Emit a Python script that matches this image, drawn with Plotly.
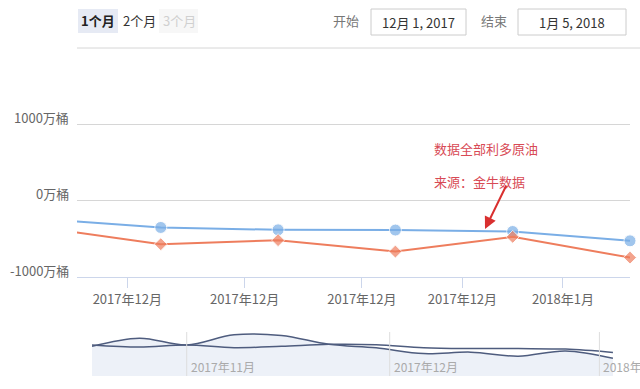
import plotly.graph_objects as go

# ---- data ----
dates = ["2017-10-18", "2017-10-25", "2017-11-01", "2017-11-08", "2017-11-15",
         "2017-11-22", "2017-11-29", "2017-12-06", "2017-12-13", "2017-12-20",
         "2017-12-27", "2018-01-03"]
blue_vals = [-250, -325, -250, -350, -300, -225, -240, -351, -382, -385, -404, -526]
orange_vals = [-300, 0, -250, 125, 100, -225, -356, -570, -517, -667, -474, -746]

x_tick_vals = ["2017-12-04", "2017-12-11", "2017-12-18", "2017-12-24", "2017-12-30"]
x_tick_text = ["2017年12月", "2017年12月", "2017年12月", "2017年12月", "2018年1月"]
y_tick_vals = [-1000, 0, 1000, 2000]
y_tick_text = ["-1000万桶", "0万桶", "1000万桶", ""]

nav_sep_dates = ["2017-11-01", "2017-12-01", "2018-01-01"]
nav_sep_text = ["2017年11月", "2017年12月", "2018年1"]

BLUE = "#7aaee6"
ORANGE = "#ee7d5d"
NAV = "#4e5c7e"
FONT = "Noto Sans CJK SC"
W, H = 640, 389

def px(x):
    return x / W

def py(y):
    return 1 - y / H

main_first = dates.index("2017-12-06")
blue_sizes = [0 if i < main_first else 12 for i in range(len(dates))]
orange_sizes = [0 if i < main_first else 10 for i in range(len(dates))]

fig = go.Figure()

# main series
fig.add_trace(go.Scatter(x=dates, y=blue_vals, mode="lines+markers",
                         line=dict(color=BLUE, width=2),
                         marker=dict(color=BLUE, size=blue_sizes, symbol="circle"),
                         cliponaxis=False, xaxis="x", yaxis="y", showlegend=False))
fig.add_trace(go.Scatter(x=dates, y=orange_vals, mode="lines+markers",
                         line=dict(color=ORANGE, width=2),
                         marker=dict(color=ORANGE, size=orange_sizes, symbol="diamond"),
                         cliponaxis=False, xaxis="x", yaxis="y", showlegend=False))

# navigator
nav_base = [-1400] * len(dates)
fig.add_trace(go.Scatter(x=dates, y=nav_base, mode="lines", line=dict(width=0, color="rgba(0,0,0,0)"),
                         xaxis="x2", yaxis="y2", showlegend=False, hoverinfo="skip"))
fig.add_trace(go.Scatter(x=dates, y=orange_vals, mode="lines", line=dict(color=NAV, width=1.5, shape="spline"),
                         fill="tonexty", fillcolor="#edf1f8",
                         xaxis="x2", yaxis="y2", showlegend=False))
fig.add_trace(go.Scatter(x=dates, y=blue_vals, mode="lines", line=dict(color=NAV, width=1.5, shape="spline"),
                         xaxis="x2", yaxis="y2", showlegend=False))

fig.update_layout(
    width=W, height=H,
    margin=dict(l=0, r=0, t=0, b=0),
    paper_bgcolor="white", plot_bgcolor="white",
    font=dict(family=FONT, size=12, color="#666666"),
    xaxis=dict(domain=[px(77), px(630)], range=["2017-12-01", "2018-01-03"],
               tickvals=x_tick_vals, ticktext=x_tick_text,
               showgrid=False, showline=True, linecolor="#ccd6eb", linewidth=1,
               ticks="outside", ticklen=10, tickcolor="#ccd6eb",
               tickfont=dict(size=13, color="#666666"), anchor="y", zeroline=False),
    yaxis=dict(domain=[py(277), py(48)], range=[-1000, 2000],
               tickvals=y_tick_vals, showticklabels=False,
               showgrid=True, gridcolor="#d6d6d6", gridwidth=1, zeroline=False, anchor="x"),
    xaxis2=dict(domain=[px(92), 1.0], range=["2017-10-18", "2018-01-07"],
                showgrid=False, showticklabels=False, zeroline=False, anchor="y2"),
    yaxis2=dict(domain=[py(376), py(332)], range=[-1400, 230],
                showgrid=False, showticklabels=False, zeroline=False, anchor="x2"),
)

annotations = []
for v, t in zip(y_tick_vals, y_tick_text):
    if t:
        annotations.append(dict(x=px(71), xref="paper", y=v, yref="y", text=t, showarrow=False,
                                xanchor="right", yanchor="middle", yshift=7,
                                font=dict(size=13, color="#666666", family=FONT)))

shapes = []
# top border line of the chart area
shapes.append(dict(type="line", xref="paper", yref="paper", x0=px(77), x1=1.0, y0=py(48), y1=py(48),
                   line=dict(color="#d6d6d6", width=1)))
for d, t in zip(nav_sep_dates, nav_sep_text):
    shapes.append(dict(type="line", xref="x2", yref="paper", x0=d, x1=d, y0=py(376), y1=py(332),
                       line=dict(color="#dddddd", width=1)))
    annotations.append(dict(x=d, xref="x2", y=py(366), yref="paper", text=t, showarrow=False,
                            xanchor="left", yanchor="middle", xshift=2,
                            font=dict(size=12, color="#aaaaaa", family=FONT)))

def label(x, y, text, size=13, color="#333333", anchor="center"):
    annotations.append(dict(x=px(x), y=py(y), xref="paper", yref="paper", text=text, showarrow=False,
                            xanchor=anchor, yanchor="middle",
                            font=dict(size=size, color=color, family=FONT)))

# range selector buttons
shapes.append(dict(type="rect", xref="paper", yref="paper", x0=px(78), x1=px(118), y0=py(33), y1=py(9),
                   fillcolor="#e6eaf4", line=dict(width=0), layer="below"))
shapes.append(dict(type="rect", xref="paper", yref="paper", x0=px(159), x1=px(198), y0=py(33), y1=py(9),
                   fillcolor="#f7f7f7", line=dict(width=0), layer="below"))
label(98, 21, "<b>1个月</b>", color="#222222")
label(139, 21, "2个月", color="#333333")
label(179, 21, "3个月", color="#d0d0d0")

# date inputs
label(346, 21, "开始", color="#777777")
shapes.append(dict(type="rect", xref="paper", yref="paper", x0=px(371), x1=px(466), y0=py(35), y1=py(9),
                   fillcolor="white", line=dict(color="#cccccc", width=1)))
label(418, 22, "12月 1, 2017", color="#333333")
label(494, 21, "结束", color="#777777")
shapes.append(dict(type="rect", xref="paper", yref="paper", x0=px(518), x1=px(626), y0=py(35), y1=py(9),
                   fillcolor="white", line=dict(color="#cccccc", width=1)))
label(572, 22, "1月 5, 2018", color="#333333")

# red note
RED = "#d84a55"
label(432, 148, "数据全部利多原油", color=RED, anchor="left")
label(432, 181, "来源：金牛数据", color=RED, anchor="left")
annotations.append(dict(x=px(485), y=py(229), xref="paper", yref="paper", ax=22, ay=-45,
                        text="", showarrow=True,
                        arrowhead=2, arrowsize=1.2, arrowwidth=2, arrowcolor="#d9302f"))

fig.update_layout(annotations=annotations, shapes=shapes)
fig.write_html("out.html", config={"displayModeBar": False},
               post_script="document.body.style.margin='0';document.body.style.padding='0';")
